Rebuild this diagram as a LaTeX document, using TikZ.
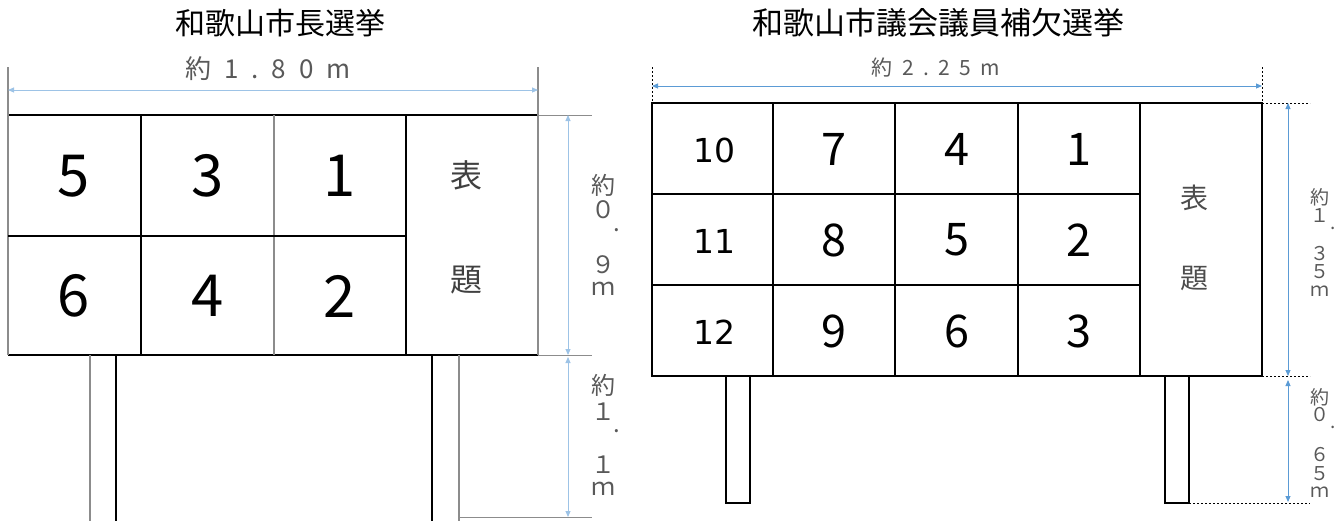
\documentclass[tikz,border=0pt]{standalone}
\usepackage{fontspec}
\setmainfont{Noto Sans CJK JP}
\newfontfamily\dejavu{DejaVu Sans}
\usetikzlibrary{arrows.meta}
\definecolor{cota}{HTML}{5B9BD5}
\definecolor{cotaclara}{HTML}{9DC3E6}
\definecolor{gristexto}{HTML}{595959}

\begin{document}
\begin{tikzpicture}[x=1pt,y=-1pt,
    marco/.style={line width=1.3pt,black},
    marcogris/.style={line width=1.3pt,black!45},
    guia/.style={line width=1pt,black,dash pattern=on 2pt off 2pt},
    flecha/.style={{Triangle[length=6pt,width=5pt]}-{Triangle[length=6pt,width=5pt]},line width=0.9pt},
    titulo/.style={font=\fontsize{30}{30}\selectfont},
    medida/.style={text=gristexto,inner sep=0pt},
    numgrande/.style={font=\fontsize{58}{58}\selectfont},
    nummedio/.style={font=\fontsize{45}{45}\selectfont},
    numchico/.style={font=\dejavu\fontsize{33}{33}\selectfont}]
    \useasboundingbox (0,0) rectangle (1344,520);
    % Titulos
    \node[titulo] (tituloA) at (280,23) {和歌山市長選挙};
    \node[titulo,font=\fontsize{31}{31}\selectfont] (tituloB) at (938,23) {和歌山市議会議員補欠選挙};

    % Tablero del alcalde
    \coordinate (a1) at (8,115);
    \coordinate (a2) at (538,115);
    \coordinate (a3) at (8,355);
    \coordinate (a4) at (538,355);
    \draw[marco] (a1) -- (a2);
    \draw[marco] (a3) -- (a4);
    \draw[marcogris] (8,67) -- (a3);
    \draw[marcogris] (538,67) -- (a4);
    \draw[marco] (141,115) -- (141,355);
    \draw[marcogris] (274,115) -- (274,355);
    \draw[marco] (406,115) -- (406,355);
    \draw[marco] (8,236) -- (406,236);
    \foreach \n/\x/\y in {5/74/176, 3/208/176, 1/340/176, 6/74/296, 4/208/296, 2/340/296}
        \node[numgrande] (izq\n) at (\x,\y) {\n};
    \node[font=\fontsize{32}{32}\selectfont,text=black!75] (izqhyo) at (466,175) {表};
    \node[font=\fontsize{32}{32}\selectfont,text=black!75] (izqdai) at (466,280) {題};
    % Patas
    \draw[marcogris] (90,355) -- (90,521);
    \draw[marco] (116,355) -- (116,521);
    \draw[marco] (432,355) -- (432,521);
    \draw[marcogris] (459,355) -- (459,521);

    % Cotas del alcalde
    \draw[flecha,cotaclara] (8,90) -- (538,90);
    \node[medida,font=\fontsize{26}{26}\selectfont\addfontfeature{LetterSpace=50}] (anchoA) at (268,69) {約1.80m};
    \coordinate (a5) at (592,115);
    \coordinate (a6) at (592,355);
    \coordinate (a7) at (592,517);
    \draw[marcogris,line width=1pt] (a2) -- (a5);
    \draw[marcogris,line width=1pt] (a4) -- (a6);
    \draw[marcogris,line width=1pt] (459,517) -- (a7);
    \draw[flecha,cotaclara] (568,115) -- (568,355);
    \draw[flecha,cotaclara] (568,357) -- (568,517);
    \foreach \t/\x/\y [count=\i] in {約/603/185, ０/603/210, ./617/230, ９/603/265, ｍ/603/289,
                                     約/603/385, １/603/412, ./617/431, １/603/465, ｍ/603/489}
        \node[medida,font=\fontsize{24}{24}\selectfont] (altoA\i) at (\x,\y) {\t};

    % Tablero del concejo
    \coordinate (b1) at (652,103);
    \coordinate (b2) at (1262,103);
    \coordinate (b3) at (652,376);
    \coordinate (b4) at (1262,376);
    \draw[marco] (b1) rectangle (b4);
    \foreach \x in {773,895,1018,1140}
        \draw[marco] (\x,103) -- (\x,376);
    \foreach \y in {194,285}
        \draw[marco] (652,\y) -- (1140,\y);
    \foreach \n/\x/\y in {7/834/149, 4/957/149, 1/1079/149, 8/834/240, 5/957/240,
                          2/1079/240, 9/834/331, 6/957/331, 3/1079/331}
        \node[nummedio] (der\n) at (\x,\y) {\n};
    \foreach \n/\y in {10/150, 11/241, 12/332}
        \node[numchico] (der\n) at (714,\y) {\n};
    \node[font=\fontsize{28}{28}\selectfont,text=black!70] (derhyo) at (1194,198) {表};
    \node[font=\fontsize{28}{28}\selectfont,text=black!70] (derdai) at (1194,278) {題};
    % Patas
    \draw[marco] (726,376) rectangle (750,503);
    \draw[marco] (1165,376) rectangle (1189,503);

    % Cotas del concejo
    \draw[guia] (652,67) -- (b1);
    \draw[guia] (1262,67) -- (b2);
    \draw[flecha,cota] (652,86) -- (1262,86);
    \node[medida,font=\fontsize{21}{21}\selectfont\addfontfeature{LetterSpace=45}] (anchoB) at (936,68) {約2.25m};
    \coordinate (b5) at (1310,103);
    \coordinate (b6) at (1310,376);
    \coordinate (b7) at (1310,503);
    \draw[guia] (b2) -- (b5);
    \draw[guia] (b4) -- (b6);
    \draw[guia] (1189,503) -- (b7);
    \draw[flecha,cota] (1288,103) -- (1288,376);
    \draw[flecha,cota] (1288,380) -- (1288,502);
    \foreach \t/\x/\y [count=\i] in {約/1320/197, １/1320/216, ./1333/228, ３/1320/254, ５/1320/272, ｍ/1320/291,
                                     約/1320/397, ０/1320/415, ./1333/427, ６/1320/455, ５/1320/474, ｍ/1320/492}
        \node[medida,font=\fontsize{19}{19}\selectfont] (altoB\i) at (\x,\y) {\t};
\end{tikzpicture}
\end{document}
